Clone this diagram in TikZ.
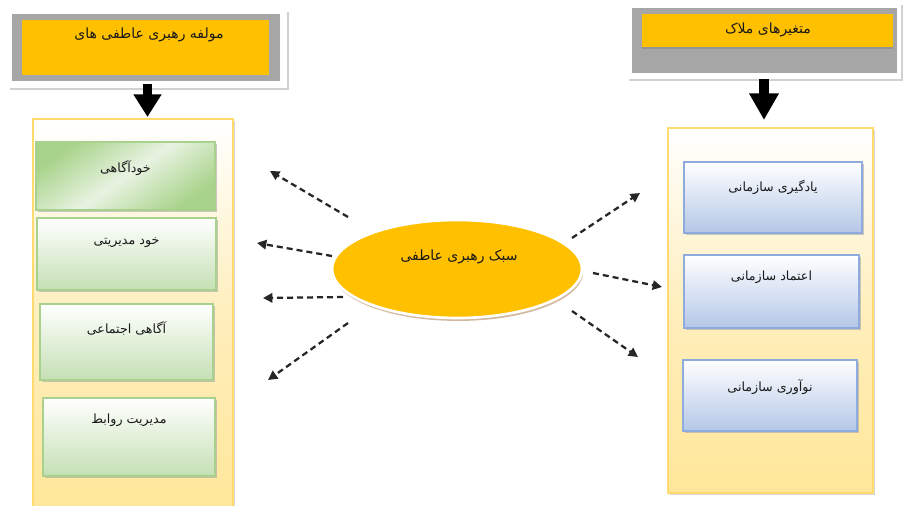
\documentclass[tikz,border=0pt]{standalone}
\usepackage{fontspec}
\newfontfamily\fa[Script=Arabic]{DejaVu Sans}
\TeXXeTstate=1
\usetikzlibrary{arrows.meta,shadows,calc,shapes.geometric}
\definecolor{hy}{HTML}{FFC000}
\definecolor{hgray}{HTML}{A6A6A6}
\definecolor{cbord}{HTML}{FFDA6E}
\definecolor{cfill}{HTML}{FFE699}
\definecolor{gbord}{HTML}{A9D18E}
\definecolor{gfill}{HTML}{C5E0B4}
\definecolor{gdark}{HTML}{A8D38A}
\definecolor{bbord}{HTML}{8FAADC}
\definecolor{bfill}{HTML}{B4C7E7}
\begin{document}
\begin{tikzpicture}[x=0.75pt,y=-0.75pt,
  base/.style={rectangle,inner sep=0pt,outer sep=0pt},
  frame/.style={base,fill=white,drop shadow={shadow xshift=1.5pt,shadow yshift=-1.5pt,fill=black!18,opacity=1}},
  graybox/.style={base,fill=hgray},
  yelbox/.style={base,fill=hy},
  container/.style={base,draw=cbord,line width=2pt,top color=white,bottom color=cfill,middle color=cfill!65!white,
     drop shadow={shadow xshift=1.2pt,shadow yshift=-1.2pt,fill=black!25,opacity=0.6}},
  gbox/.style={base,draw=gbord,line width=0.8pt,top color=white,bottom color=gfill,
     drop shadow={shadow xshift=1.5pt,shadow yshift=-1.8pt,fill=black!35,opacity=0.6}},
  bbox/.style={base,draw=bbord,line width=0.8pt,top color=white,bottom color=bfill,
     drop shadow={shadow xshift=1.5pt,shadow yshift=-1.8pt,fill=black!35,opacity=0.6}},
  txt/.style={inner sep=0pt,font=\fa\fontsize{9.5}{11}\selectfont,text=black!90},
  htxt/.style={inner sep=0pt,font=\fa\fontsize{10.5}{12}\selectfont,text=black!90},
  blockarrow/.style={draw=black},
  dasharrow/.style={line width=1.7pt,dash pattern=on 4.5pt off 3pt,black!85,-{Triangle[length=7pt,width=7pt]}}
]
\useasboundingbox (0,0) rectangle (903,506);
\fill[white] (0,0) rectangle (903,506);

% left header
\node[frame,minimum width=209.25pt,minimum height=58.5pt] (hLf) at (147.5,49) {};
\node[graybox,minimum width=201pt,minimum height=50.25pt] (hLg) at (146,47.5) {};
\node[yelbox,minimum width=185.25pt,minimum height=41.25pt] (hLy) at (145.5,47.5) {};
\node[htxt] (hLt) at (149,35) {\beginR مولفه رهبری عاطفی های\endR};

% right header
\node[frame,minimum width=205.5pt,minimum height=57pt] (hRf) at (764,41) {};
\node[graybox,minimum width=198.75pt,minimum height=48.75pt] (hRg) at (764.5,40.5) {};
\node[yelbox,minimum width=188.25pt,minimum height=24.75pt,
  drop shadow={shadow xshift=0pt,shadow yshift=-1.2pt,fill=black!45,opacity=0.7}] (hRy) at (767.5,30.5) {};
\node[htxt] (hRt) at (768,30) {\beginR متغیرهای ملاک\endR};

% containers
\node[container,minimum width=150pt,minimum height=294.75pt] (cL) at (133,315.5) {};
\node[container,minimum width=153.75pt,minimum height=273.75pt] (cR) at (770.5,310.5) {};

% block arrows
\draw[blockarrow,line width=6.5pt,-{Triangle[length=17pt,width=20pt]},shorten <=-3pt,shorten >=1.5pt] (hLf.south) -- (hLf.south |- cL.north);
\draw[blockarrow,line width=7.5pt,-{Triangle[length=20pt,width=21pt]},shorten <=0pt,shorten >=6pt] (hRf.south) -- (hRf.south |- cR.north);

% left boxes
\node[gbox,minimum width=134.25pt,minimum height=51pt,
  top color=gdark,bottom color=gdark,middle color=white!60!gfill,shading angle=35] (l1) at (125.5,176) {};
\node[txt] (l1t) at (125.5,168) {\beginR خودآگاهی\endR};
\node[gbox,minimum width=134.25pt,minimum height=54pt] (l2) at (126.5,254) {};
\node[txt] (l2t) at (126.5,243) {\beginR خود مدیریتی\endR};
\node[gbox,minimum width=129.75pt,minimum height=57pt] (l3) at (126.5,342) {};
\node[txt] (l3t) at (126.5,328) {\beginR آگاهی اجتماعی\endR};
\node[gbox,minimum width=129pt,minimum height=58.5pt] (l4) at (129,437) {};
\node[txt] (l4t) at (129,420) {\beginR مدیریت روابط\endR};

% right boxes
\node[bbox,minimum width=133.5pt,minimum height=53.25pt] (r1) at (773,197.5) {};
\node[txt] (r1t) at (773,187) {\beginR یادگیری سازمانی\endR};
\node[bbox,minimum width=131.25pt,minimum height=54.75pt] (r2) at (771.5,291.5) {};
\node[txt] (r2t) at (771.5,277) {\beginR اعتماد سازمانی\endR};
\node[bbox,minimum width=130.5pt,minimum height=53.25pt] (r3) at (770,395.5) {};
\node[txt] (r3t) at (770,387) {\beginR نوآوری سازمانی\endR};

% central ellipse
\node[ellipse,inner sep=0pt,outer sep=0pt,minimum width=187.5pt,minimum height=73.5pt,
  fill=hy,draw=white,line width=2pt,
  drop shadow={shadow xshift=0.8pt,shadow yshift=-2.2pt,fill=brown!70!gray,opacity=0.55}] (el) at (457,269) {};
\node[htxt] (elt) at (459,257) {\beginR سبک رهبری عاطفی\endR};

% arrow end coordinates
\coordinate (s1) at (348,217); \coordinate (e1) at (270,171);
\coordinate (s2) at (332,256); \coordinate (e2) at (257,243);
\coordinate (s3) at (343,297); \coordinate (e3) at (263,298);
\coordinate (s4) at (348,323); \coordinate (e4) at (268,380);
\coordinate (s5) at (572,238); \coordinate (e5) at (640,193);
\coordinate (s6) at (593,273); \coordinate (e6) at (662,287);
\coordinate (s7) at (572,311); \coordinate (e7) at (638,357);
\foreach \i in {1,...,7} {\draw[dasharrow] (s\i) -- (e\i);}
\end{tikzpicture}
\end{document}
